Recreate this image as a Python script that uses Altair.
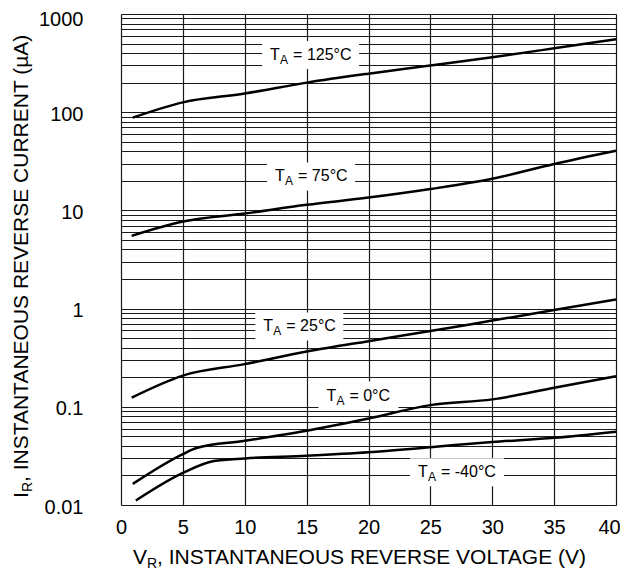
import altair as alt
import pandas as pd

# ---- data ----
vr_125 = [0.95, 5, 10, 15, 20, 25, 30, 35, 40]
ir_125 = [88, 126, 155, 200, 247, 299, 363, 447, 553]

vr_75 = [0.86, 5, 10, 15, 20, 25, 30, 35, 40]
ir_75 = [5.5, 7.7, 9.3, 11.4, 13.5, 16.5, 21, 29.7, 40.5]

vr_25 = [0.86, 5, 10, 15, 20, 25, 30, 35, 40]
ir_25 = [0.124, 0.208, 0.272, 0.365, 0.466, 0.59, 0.755, 0.966, 1.24]

vr_0 = [0.95, 5, 6.1, 10, 15, 20, 25, 30, 35, 40]
ir_0 = [0.0164, 0.033, 0.038, 0.045, 0.057, 0.076, 0.104, 0.119, 0.156, 0.205]

vr_m40 = [1.2, 5, 7.5, 10, 15, 20, 25, 30, 35, 40]
ir_m40 = [0.0111, 0.0212, 0.028, 0.0298, 0.0317, 0.0344, 0.0388, 0.0438, 0.0483, 0.0558]

series_names = ["125", "75", "25", "0", "-40"]
series_x = [vr_125, vr_75, vr_25, vr_0, vr_m40]
series_y = [ir_125, ir_75, ir_25, ir_0, ir_m40]

# curve labels (left edge of the "T", vertical centre)
label_text = ["= 125°C", "= 75°C", "= 25°C", "= 0°C", "= -40°C"]
label_x = [12.05, 12.45, 11.5, 16.6, 24.0]
label_y = [383, 22.2, 0.658, 0.13, 0.0215]

x_ticks = [0, 5, 10, 15, 20, 25, 30, 35, 40]
y_decades = [0.01, 0.1, 1, 10, 100, 1000]
y_grid = sorted({round(m * d, 6) for d in y_decades[:-1] for m in range(1, 10)} | {1000})

rows = []
for name, xs, ys in zip(series_names, series_x, series_y):
    for xv, yv in zip(xs, ys):
        rows.append({"series": name, "vr": xv, "ir": yv})
df = pd.DataFrame(rows)

lab_df = pd.DataFrame({"x": label_x, "y": label_y, "txt": label_text})

FONT = "Liberation Sans"
x_scale = alt.Scale(domain=[0, 40], nice=False, zero=False)
y_scale = alt.Scale(type="log", domain=[0.01, 1000], nice=False)

x_enc = alt.X("vr:Q", scale=x_scale,
              axis=alt.Axis(values=x_ticks, title=None, grid=True, ticks=False, tickSize=0,
                            domain=False, labelFontSize=20, labelFont=FONT, labelColor="black",
                            labelPadding=12, gridColor="#1a1a1a", gridWidth=1.2, gridOpacity=1,
                            labelFlush=False,
                            labelOffset={"condition": {"test": "datum.value == 40", "value": -7},
                                         "value": 0}))
y_enc = alt.Y("ir:Q", scale=y_scale,
              axis=alt.Axis(values=y_grid, title=None, grid=True, ticks=False, tickSize=0,
                            domain=False, labelFontSize=20, labelFont=FONT, labelColor="black",
                            labelPadding=38, gridColor="#1a1a1a", gridWidth=1.2, gridOpacity=1,
                            labelOffset={"condition": {"test": "datum.value >= 1000", "value": 5},
                                         "value": 2},
                            labelExpr="abs(log(datum.value)/LN10 - round(log(datum.value)/LN10)) < 0.000001 ? format(datum.value, '~g') : ''",
                            labelFlush=False, labelOverlap=False))

lines = alt.Chart(df).mark_line(color="black", strokeWidth=2.5, interpolate="monotone").encode(
    x=x_enc, y=y_enc, detail="series:N")

lx = alt.X("x:Q", scale=x_scale)
ly = alt.Y("y:Q", scale=y_scale)

# approximate text widths to size the white label boxes
text_w = [81, 72, 72, 64, 78]
boxes = []
for i, w in enumerate(text_w):
    bw = w + 16
    boxes.append(
        alt.Chart(lab_df.iloc[[i]]).mark_rect(color="white", width=bw, height=28,
                                              xOffset=bw / 2 - 8).encode(x=lx, y=ly)
    )

t_main = alt.Chart(lab_df).mark_text(text="T", align="left", baseline="middle", fontSize=16,
                                     font=FONT, color="black").encode(x=lx, y=ly)
t_sub = alt.Chart(lab_df).mark_text(text="A", align="left", baseline="middle", fontSize=12,
                                    font=FONT, color="black", dx=10, dy=5).encode(x=lx, y=ly)
t_rest = alt.Chart(lab_df).mark_text(align="left", baseline="middle", fontSize=16,
                                     font=FONT, color="black", dx=23).encode(x=lx, y=ly, text="txt:N")

# axis titles with subscripts
one = pd.DataFrame({"a": [0]})
XT_X, XT_Y = 12, 544
xt1 = alt.Chart(one).mark_text(text="V", align="left", baseline="middle", fontSize=21,
                               font=FONT, color="black").encode(x=alt.value(XT_X), y=alt.value(XT_Y))
xt2 = alt.Chart(one).mark_text(text="R", align="left", baseline="middle", fontSize=14,
                               font=FONT, color="black", dx=14, dy=6).encode(x=alt.value(XT_X), y=alt.value(XT_Y))
xt3 = alt.Chart(one).mark_text(text=", INSTANTANEOUS REVERSE VOLTAGE (V)", align="left",
                               baseline="middle", fontSize=21, font=FONT, color="black",
                               dx=24).encode(x=alt.value(XT_X), y=alt.value(XT_Y))

YT_X, YT_Y = -99, 484
yt1 = alt.Chart(one).mark_text(text="I", align="left", baseline="middle", fontSize=21, angle=270,
                               font=FONT, color="black").encode(x=alt.value(YT_X), y=alt.value(YT_Y))
yt2 = alt.Chart(one).mark_text(text="R", align="left", baseline="middle", fontSize=14, angle=270,
                               font=FONT, color="black", dx=6, dy=6).encode(x=alt.value(YT_X), y=alt.value(YT_Y))
yt3 = alt.Chart(one).mark_text(text=", INSTANTANEOUS REVERSE CURRENT (µA)", align="left",
                               baseline="middle", fontSize=21, angle=270, font=FONT, color="black",
                               dx=16).encode(x=alt.value(YT_X), y=alt.value(YT_Y))

chart = alt.layer(lines, *boxes, t_main, t_sub, t_rest, xt1, xt2, xt3, yt1, yt2, yt3).properties(
    width=495, height=491,
    autosize=alt.AutoSizeParams(type="none"),
    padding={"left": 113, "top": 6, "right": 4, "bottom": 65},
).configure_view(stroke="black", strokeWidth=1.5).configure(background="white")

chart.save("out.html", embed_options={"renderer": "svg", "actions": False})
